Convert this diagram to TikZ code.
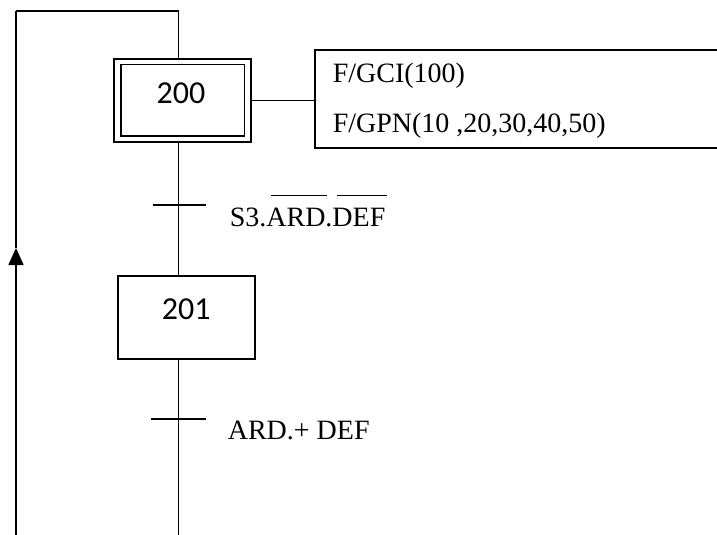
\documentclass[tikz,border=0pt]{standalone}
\usepackage{fontspec}
\setmainfont{Liberation Serif}
\newfontfamily\stepfont{Carlito}
\usetikzlibrary{arrows.meta}
\newcommand\barred[1]{\setbox0\hbox{#1}\rlap{\hspace{5bp}\raisebox{31bp}{\rule{\dimexpr\wd0-3bp\relax}{1.4bp}}}\box0}
\begin{document}
\begin{tikzpicture}[x=1bp,y=-1bp, line width=1.6bp,
  every node/.style={inner sep=0pt},
  txt/.style={anchor=base west, font=\fontsize{28bp}{34bp}\selectfont},
  steptxt/.style={anchor=base, font=\stepfont\fontsize{32bp}{38bp}\selectfont},
  stepbox/.style={draw, fill=white, rectangle, minimum width=137bp, minimum height=83bp},
  actbox/.style={draw, anchor=north west, minimum width=440bp, minimum height=98bp}]
\useasboundingbox (0,0) rectangle (717,535);
\clip (0,0) rectangle (717,535);
\coordinate (tl) at (16,11);
\coordinate (tm) at (178.5,11);
\coordinate (bl) at (16,535);
\coordinate (arr) at (16,248);
\coordinate (bm) at (178.5,535);
\coordinate (tr1) at (178.5,205);
\coordinate (tr2) at (178.5,419);
% main line
\draw (tl) -- (tm) -- (tm |- 0,59);
\draw (tm |- 0,142) -- (tm |- 0,276);
\draw (tm |- 0,359) -- (bm);
% steps
\node[stepbox] (s200) at (182.5,100.5) {};
\draw ([shift={(7.5,6.5)}]s200.north west) rectangle ([shift={(-7.5,-6.5)}]s200.south east);
\node[steptxt] (t200) at (181,104) {200};
\node[stepbox] (s201) at (186.5,317.5) {};
\node[steptxt] (t201) at (186.3,319.5) {201};
% action
\node[actbox] (act) at (314,49) {};
\node[txt] (a1) at (332,83) {F/GCI(100)};
\node[txt] (a2) at (332,133) {F/GPN(10 ,20,30,40,50)};
\draw (s200.east) -- (s200.east -| act.west);
% transitions
\draw ([xshift=-26bp]tr1) -- ([xshift=27bp]tr1);
\draw ([xshift=-28bp]tr2) -- ([xshift=27bp]tr2);
\node[txt] (c1) at (229,227) {S3.\barred{ARD}.\barred{DEF}};
\node[txt] (c2) at (227,439) {ARD.+ DEF};
% return loop
\draw[-{Triangle[length=17bp,width=15bp]}] (bl) -- (arr);
\draw (arr) -- (tl);
\end{tikzpicture}
\end{document}
